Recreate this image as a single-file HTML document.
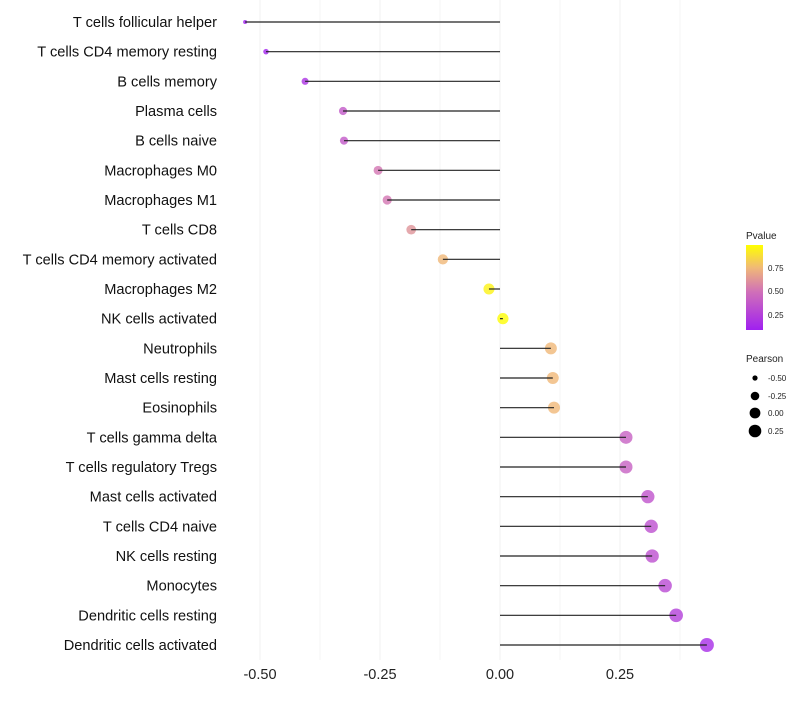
<!DOCTYPE html>
<html><head><meta charset="utf-8"><style>
body{margin:0;background:#fff;font-family:"Liberation Sans",sans-serif}
</style></head><body>
<svg id="chart" width="800" height="700" xmlns="http://www.w3.org/2000/svg">
<defs><linearGradient id="pg" x1="0" y1="1" x2="0" y2="0">
<stop offset="0" stop-color="#a020f0"/><stop offset="0.45" stop-color="#d070b8"/><stop offset="0.73" stop-color="#f0b878"/><stop offset="1" stop-color="#ffff00"/></linearGradient></defs>
<g id="grid"></g><g id="marks"></g><g id="labels"></g>
<g font-size="10" fill="#222">
<text x="746" y="239">Pvalue</text>
<rect x="746" y="245" width="17" height="85" fill="url(#pg)"/>
<text x="768" y="271" font-size="8">0.75</text>
<text x="768" y="294" font-size="8">0.50</text>
<text x="768" y="318" font-size="8">0.25</text>
</g>
<g fill="#000">
<text x="746" y="362" font-size="10" fill="#222">Pearson</text>
<circle cx="755" cy="378" r="2.6"/>
<circle cx="755" cy="396" r="4.3"/>
<circle cx="755" cy="413" r="5.4"/>
<circle cx="755" cy="431" r="6.3"/>
<g font-size="8" fill="#222"><text x="768" y="381">-0.50</text><text x="768" y="399">-0.25</text><text x="768" y="416">0.00</text><text x="768" y="434">0.25</text></g>
</g>
</svg>
<script>
const cells=["T cells follicular helper","T cells CD4 memory resting","B cells memory","Plasma cells","B cells naive","Macrophages M0","Macrophages M1","T cells CD8","T cells CD4 memory activated","Macrophages M2","NK cells activated","Neutrophils","Mast cells resting","Eosinophils","T cells gamma delta","T cells regulatory  Tregs","Mast cells activated","T cells CD4 naive","NK cells resting","Monocytes","Dendritic cells resting","Dendritic cells activated"];
const pearson=[-0.531,-0.4875,-0.406,-0.327,-0.325,-0.254,-0.235,-0.185,-0.119,-0.023,0.006,0.106,0.110,0.1125,0.2625,0.2625,0.308,0.315,0.317,0.344,0.367,0.431];
const pvalue=[0.08,0.1,0.18,0.38,0.38,0.52,0.52,0.62,0.75,0.95,0.98,0.75,0.75,0.75,0.42,0.42,0.35,0.33,0.33,0.3,0.25,0.15];
const ticks=[-0.5,-0.25,0,0.25];
const tickLabels=["-0.50","-0.25","0.00","0.25"];
const NS="http://www.w3.org/2000/svg";
const x=v=>500+480*v;
const y=i=>22+i*(623/21);
const stops=[[0.08,[160,32,240]],[0.5,[208,112,184]],[0.75,[240,184,120]],[0.99,[255,255,0]]];
function col(p){if(p<=stops[0][0])return`rgb(${stops[0][1]})`;for(let k=1;k<stops.length;k++){if(p<=stops[k][0]){const a=stops[k-1],b=stops[k],t=(p-a[0])/(b[0]-a[0]);return`rgb(${a[1].map((c,j)=>Math.round(c+(b[1][j]-c)*t))})`;}}return`rgb(${stops[3][1]})`;}
const rad=v=>1.5+5.5*Math.sqrt(Math.max(0,(v+0.54)/0.97));
function el(t,a,p){const e=document.createElementNS(NS,t);for(const k in a)e.setAttribute(k,a[k]);p.appendChild(e);return e;}
const grid=document.getElementById('grid'),marks=document.getElementById('marks'),labels=document.getElementById('labels');
for(let v=-0.5;v<=0.375+1e-9;v+=0.125){const g=el('line',{x1:x(v),x2:x(v),y1:0,y2:660,stroke:'#f0f0f0','stroke-width':Math.abs((v*4)%1)<1e-6?1:0.6},grid);

}
ticks.forEach((t,i)=>{const tx=el('text',{x:x(t),y:679,'text-anchor':'middle','font-size':14.5,fill:'#222'},labels);tx.textContent=tickLabels[i];

});
cells.forEach((c,i)=>{
const lb=el('text',{x:217,y:y(i)+5,'text-anchor':'end','font-size':14.6,fill:'#111'},labels);lb.textContent=c;


const pt=el('circle',{cx:x(pearson[i]),cy:y(i),r:rad(pearson[i]),fill:col(pvalue[i]),'fill-opacity':0.8},marks);


const ln=el('line',{x1:x(0),x2:x(pearson[i]),y1:y(i),y2:y(i),stroke:'#222','stroke-width':1.2},marks);


});
</script>
</body></html>
